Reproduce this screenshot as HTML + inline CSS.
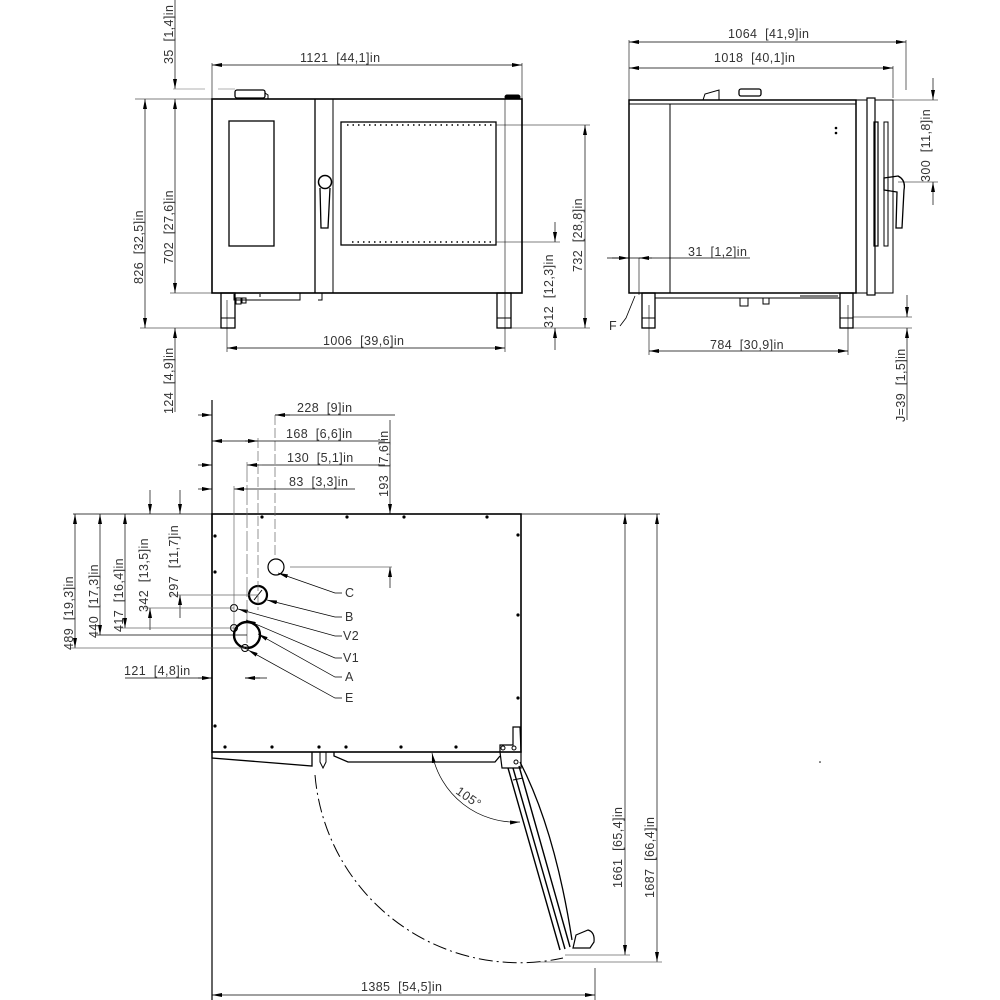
<!DOCTYPE html>
<html><head><meta charset="utf-8"><style>
html,body{margin:0;padding:0;background:#fff;}
svg{display:block;}
text{font-family:"Liberation Sans",sans-serif;font-size:12.5px;letter-spacing:0.4px;fill:#333;white-space:pre;}
</style></head><body>
<svg width="1000" height="1000" viewBox="0 0 1000 1000" xmlns="http://www.w3.org/2000/svg" xml:space="preserve">
<defs>
<marker id="a" viewBox="0 0 10 4" refX="10" refY="2" markerWidth="10" markerHeight="4" orient="auto-start-reverse" markerUnits="userSpaceOnUse"><path d="M0,0L10,2L0,4z" fill="#000"/></marker>
</defs>
<g fill="none" stroke="#000" stroke-width="1">
<rect x="212" y="99" width="310" height="194" stroke-width="1.6"/>
<line x1="315" y1="99" x2="315" y2="293" stroke-width="1.3"/>
<line x1="333" y1="99" x2="333" y2="293"/>
<rect x="229" y="121" width="45" height="125" stroke-width="1.3"/>
<rect x="341" y="122" width="155" height="123" stroke-width="1.3"/>
<line x1="347" y1="125" x2="492" y2="125" stroke-dasharray="1.5 4" stroke-width="1.5"/>
<line x1="352" y1="242" x2="492" y2="242" stroke-dasharray="1.5 4" stroke-width="1.5"/>
<circle cx="325" cy="182" r="6.5" stroke-width="1.5"/>
<path d="M320,188 L321,228 L328,228 L330,188" stroke-width="1.3"/>
<rect x="235" y="90" width="30" height="8" rx="2" stroke-width="1.3"/>
<path d="M265,93 L268,95 L268,99"/>
<rect x="505" y="95" width="15" height="4" rx="2" fill="#000"/>
<rect x="221" y="293" width="14" height="35" stroke-width="1.3"/>
<line x1="221" y1="318" x2="235" y2="318"/>
<rect x="497" y="293" width="14" height="35" stroke-width="1.3"/>
<line x1="497" y1="318" x2="511" y2="318"/>
<path d="M234,294 L234,300 L300,300 L300,293 M260,294 L260,297 M322,293 L322,300 L318,300" />
<rect x="236" y="298" width="5" height="6"/><rect x="242" y="298" width="4" height="5"/>
<line x1="212" y1="65" x2="522" y2="65" marker-start="url(#a)" marker-end="url(#a)" stroke-width=".7"/>
<line x1="212" y1="63" x2="212" y2="99" stroke-width=".6"/>
<line x1="522" y1="63" x2="522" y2="99" stroke-width=".6"/>
<line x1="175" y1="0" x2="175" y2="89" marker-end="url(#a)" stroke-width=".7"/>
<line x1="175" y1="99" x2="175" y2="293" marker-start="url(#a)" marker-end="url(#a)" stroke-width=".7"/>
<line x1="175" y1="328" x2="175" y2="412" marker-start="url(#a)" stroke-width=".7"/>
<line x1="145" y1="99" x2="145" y2="328" marker-start="url(#a)" marker-end="url(#a)" stroke-width=".7"/>
<line x1="173" y1="89" x2="205" y2="89" stroke="#999" stroke-width=".7"/><line x1="218" y1="89" x2="235" y2="89" stroke="#999" stroke-width=".7"/>
<line x1="135" y1="99" x2="212" y2="99" stroke-width=".6"/>
<line x1="170" y1="293" x2="212" y2="293" stroke-width=".6"/>
<line x1="140" y1="328" x2="225" y2="328" stroke-width=".6"/>
<line x1="227" y1="300" x2="227" y2="352" stroke-width=".6"/>
<line x1="505" y1="99" x2="505" y2="352" stroke-width=".6"/>
<line x1="227" y1="348" x2="505" y2="348" marker-start="url(#a)" marker-end="url(#a)" stroke-width=".7"/>
<line x1="496" y1="125" x2="590" y2="125" stroke-width=".6"/>
<line x1="496" y1="242" x2="560" y2="242" stroke-width=".6"/>
<line x1="511" y1="328" x2="590" y2="328" stroke-width=".6"/>
<line x1="585" y1="125" x2="585" y2="328" marker-start="url(#a)" marker-end="url(#a)" stroke-width=".7"/>
<line x1="555" y1="222" x2="555" y2="242" marker-end="url(#a)" stroke-width=".7"/>
<line x1="555" y1="328" x2="555" y2="350" marker-start="url(#a)" stroke-width=".7"/>
<rect x="629" y="100" width="227" height="193" stroke-width="1.5"/>
<line x1="670" y1="104" x2="670" y2="293"/>
<line x1="629" y1="104" x2="856" y2="104"/>
<rect x="856" y="100" width="11" height="193"/>
<rect x="867" y="98" width="8" height="197" stroke-width="1.2"/>
<rect x="875" y="100" width="18" height="193"/>
<rect x="874" y="122" width="4" height="124" stroke-width="1.2"/>
<rect x="884" y="122" width="4" height="124"/>
<path d="M884,178 L898,176 Q906,180 904,190 L902,228 L896,228 L897,192 L884,190 Z" stroke-width="1.3"/>
<path d="M703,100 L705,94 L719,90 L719,100"/>
<rect x="739" y="89" width="22" height="7" rx="2" stroke-width="1.3"/>
<circle cx="836" cy="128" r=".8" fill="#000"/><circle cx="836" cy="133" r=".8" fill="#000"/>
<rect x="642" y="293" width="13" height="35" stroke-width="1.3"/><line x1="642" y1="318" x2="655" y2="318"/>
<rect x="840" y="293" width="13" height="35" stroke-width="1.3"/><line x1="840" y1="318" x2="853" y2="318"/>
<path d="M655,293 L655,298 L840,298 M800,296 L838,296"/>
<rect x="740" y="298" width="8" height="8"/><rect x="763" y="298" width="6" height="6"/>
<line x1="629" y1="42" x2="906" y2="42" marker-start="url(#a)" marker-end="url(#a)" stroke-width=".7"/>
<line x1="629" y1="68" x2="893" y2="68" marker-start="url(#a)" marker-end="url(#a)" stroke-width=".7"/>
<line x1="629" y1="40" x2="629" y2="100" stroke-width=".6"/>
<line x1="906" y1="40" x2="906" y2="90" stroke-width=".6"/>
<line x1="893" y1="66" x2="893" y2="98" stroke-width=".6"/>
<line x1="933" y1="78" x2="933" y2="100" marker-end="url(#a)" stroke-width=".7"/>
<line x1="933" y1="182" x2="933" y2="205" marker-start="url(#a)" stroke-width=".7"/>
<line x1="893" y1="100" x2="938" y2="100" stroke-width=".6"/>
<line x1="898" y1="182" x2="938" y2="182" stroke-width=".6"/>
<line x1="607" y1="258" x2="750" y2="258" stroke-width=".7"/>
<line x1="612" y1="258" x2="629" y2="258" marker-end="url(#a)" stroke-width=".7"/>
<line x1="652" y1="258" x2="639" y2="258" marker-end="url(#a)" stroke-width=".7"/>
<line x1="639" y1="258" x2="639" y2="295" stroke-width=".6"/>
<path d="M635,296 L626,318 L620,326" stroke-width=".8"/>
<line x1="649" y1="305" x2="649" y2="355" stroke-width=".6"/>
<line x1="848" y1="305" x2="848" y2="355" stroke-width=".6"/>
<line x1="649" y1="351" x2="848" y2="351" marker-start="url(#a)" marker-end="url(#a)" stroke-width=".7"/>
<line x1="853" y1="317" x2="912" y2="317" stroke-width=".6"/>
<line x1="853" y1="328" x2="912" y2="328" stroke-width=".6"/>
<line x1="907" y1="295" x2="907" y2="317" marker-end="url(#a)" stroke-width=".7"/>
<line x1="907" y1="328" x2="907" y2="420" marker-start="url(#a)" stroke-width=".7"/>
<rect x="212" y="514" width="309" height="238" stroke-width="1.6"/>
<line x1="212" y1="514" x2="660" y2="514" stroke-width=".8"/>
<line x1="212" y1="400" x2="212" y2="1000" stroke-width="1.2"/>
<path d="M212,752 L212,758 L312,766 L312,752" stroke-width="1.3"/>
<path d="M320,752 L320,762 L323,768 L326,762 L326,752" stroke-width="1"/>
<path d="M334,752 L334,756 L348,762 L495,762 L500,756" stroke-width="1.3"/>
<path d="M500,752 L500,745 L513,745 L513,727 L520,727 L521,752 L521,768 L502,768 L500,752" stroke-width="1.2"/>
<circle cx="503" cy="748" r="2"/><circle cx="514" cy="748" r="2"/><circle cx="516" cy="762" r="2"/>
<path d="M508,768 L560,950 M513,768 L565,949 M519,766 L570,947" stroke-width="1.4"/>
<path d="M520,762 Q555,830 572,940" stroke-width="1.3"/>
<path d="M513,780 L523,778" />
<path d="M573,948 L576,935 L588,930 Q595,932 594,942 L590,948 Z" stroke-width="1.2"/>
<path d="M315,775 A205,205 0 0 0 563,958" stroke-width="1" stroke-dasharray="14 4 2 4"/>
<path d="M432,753 A85,85 0 0 0 520,822" stroke-width=".7" marker-start="url(#a)" marker-end="url(#a)"/>
<g fill="#000" stroke="none">
<circle cx="262" cy="517" r="1.6"/><circle cx="347" cy="517" r="1.6"/><circle cx="404" cy="517" r="1.6"/><circle cx="487" cy="517" r="1.6"/>
<circle cx="215" cy="536" r="1.6"/><circle cx="215" cy="572" r="1.6"/><circle cx="215" cy="726" r="1.6"/>
<circle cx="518" cy="535" r="1.6"/><circle cx="518" cy="615" r="1.6"/><circle cx="518" cy="698" r="1.6"/>
<circle cx="225" cy="747" r="1.6"/><circle cx="272" cy="747" r="1.6"/><circle cx="319" cy="747" r="1.6"/><circle cx="346" cy="747" r="1.6"/><circle cx="401" cy="747" r="1.6"/><circle cx="456" cy="747" r="1.6"/>
<circle cx="820" cy="762" r=".8"/>
</g>
<circle cx="276" cy="567" r="8" stroke-width="1.2"/>
<circle cx="258" cy="595" r="9" stroke-width="2.2"/><line x1="254" y1="600" x2="262" y2="590"/>
<circle cx="234" cy="608" r="3.5"/>
<circle cx="234" cy="628" r="3.5"/>
<circle cx="247" cy="635" r="13" stroke-width="2.4"/>
<circle cx="245" cy="648" r="3.5"/>
<g stroke-width=".7">
<path d="M278,573 L335,593 L342,593" marker-start="url(#a)"/>
<path d="M267,600 L335,617 L342,617" marker-start="url(#a)"/>
<path d="M238,609 L335,636 L342,636" marker-start="url(#a)"/>
<path d="M246,620 L335,658 L342,658" marker-start="url(#a)"/>
<path d="M258,634 L335,677 L342,677" marker-start="url(#a)"/>
<path d="M248,650 L335,698 L342,698" marker-start="url(#a)"/>
</g>
<g stroke-width=".7">
<line x1="275" y1="415" x2="395" y2="415"/>
<line x1="198" y1="415" x2="212" y2="415" marker-end="url(#a)"/>
<line x1="290" y1="415" x2="275" y2="415" marker-end="url(#a)"/>
<line x1="275" y1="415" x2="275" y2="560" stroke="#666" stroke-dasharray="10 3"/>
<line x1="212" y1="441" x2="385" y2="441" marker-start="url(#a)"/>
<line x1="245" y1="441" x2="258" y2="441" marker-end="url(#a)"/>
<line x1="258" y1="438" x2="258" y2="610" stroke="#666" stroke-dasharray="10 3"/>
<line x1="198" y1="465" x2="212" y2="465" marker-end="url(#a)"/>
<line x1="262" y1="465" x2="385" y2="465"/>
<line x1="262" y1="465" x2="247" y2="465" marker-end="url(#a)"/>
<line x1="247" y1="462" x2="247" y2="650" stroke="#666" stroke-dasharray="20 3"/>
<line x1="198" y1="489" x2="212" y2="489" marker-end="url(#a)"/>
<line x1="248" y1="489" x2="355" y2="489"/>
<line x1="248" y1="489" x2="234" y2="489" marker-end="url(#a)"/>
<line x1="234" y1="486" x2="234" y2="630" stroke="#666"/>
<line x1="390" y1="420" x2="390" y2="514" marker-end="url(#a)"/>
<line x1="390" y1="567" x2="390" y2="588" marker-start="url(#a)"/>
<line x1="290" y1="567" x2="392" y2="567" stroke="#666"/>
<line x1="75" y1="514" x2="75" y2="648" marker-start="url(#a)" marker-end="url(#a)"/>
<line x1="100" y1="514" x2="100" y2="635" marker-start="url(#a)" marker-end="url(#a)"/>
<line x1="125" y1="514" x2="125" y2="628" marker-start="url(#a)" marker-end="url(#a)"/>
<line x1="150" y1="490" x2="150" y2="514" marker-end="url(#a)"/>
<line x1="150" y1="608" x2="150" y2="630" marker-start="url(#a)"/>
<line x1="180" y1="490" x2="180" y2="514" marker-end="url(#a)"/>
<line x1="180" y1="595" x2="180" y2="618" marker-start="url(#a)"/>
<line x1="73" y1="514" x2="212" y2="514"/>
<line x1="170" y1="595" x2="258" y2="595" stroke="#666"/>
<line x1="145" y1="608" x2="234" y2="608" stroke="#666"/>
<line x1="120" y1="628" x2="234" y2="628" stroke="#666"/>
<line x1="95" y1="635" x2="247" y2="635"/>
<line x1="70" y1="648" x2="245" y2="648" stroke="#666"/>
<line x1="125" y1="678" x2="212" y2="678"/>
<line x1="198" y1="678" x2="212" y2="678" marker-end="url(#a)"/>
<line x1="260" y1="678" x2="245" y2="678" marker-end="url(#a)"/>
<line x1="245" y1="678" x2="267" y2="678"/>
<line x1="625" y1="514" x2="625" y2="955" marker-start="url(#a)" marker-end="url(#a)"/>
<line x1="657" y1="514" x2="657" y2="962" marker-start="url(#a)" marker-end="url(#a)"/>
<line x1="565" y1="955" x2="630" y2="955" stroke="#666"/>
<line x1="540" y1="962" x2="662" y2="962" stroke="#666"/>
<line x1="595" y1="968" x2="595" y2="1000"/>
<line x1="212" y1="995" x2="595" y2="995" marker-start="url(#a)" marker-end="url(#a)"/>
</g>
</g>
<text x="300" y="62">1121  [44,1]in</text>
<text transform="translate(173,64) rotate(-90)">35  [1,4]in</text>
<text transform="translate(143,284) rotate(-90)">826  [32,5]in</text>
<text transform="translate(173,264) rotate(-90)">702  [27,6]in</text>
<text transform="translate(173,414) rotate(-90)">124  [4,9]in</text>
<text x="323" y="345">1006  [39,6]in</text>
<text transform="translate(582,272) rotate(-90)">732  [28,8]in</text>
<text transform="translate(553,328) rotate(-90)">312  [12,3]in</text>
<text x="728" y="38">1064  [41,9]in</text>
<text x="714" y="62">1018  [40,1]in</text>
<text transform="translate(930,182) rotate(-90)">300  [11,8]in</text>
<text x="688" y="256">31  [1,2]in</text>
<text x="609" y="330">F</text>
<text x="710" y="349">784  [30,9]in</text>
<text transform="translate(905,422) rotate(-90)">J=39  [1,5]in</text>
<text x="297" y="412">228  [9]in</text>
<text x="286" y="438">168  [6,6]in</text>
<text x="287" y="462">130  [5,1]in</text>
<text x="289" y="486">83  [3,3]in</text>
<text transform="translate(388,497) rotate(-90)">193  [7,6]in</text>
<text transform="translate(73,650) rotate(-90)">489  [19,3]in</text>
<text transform="translate(98,638) rotate(-90)">440  [17,3]in</text>
<text transform="translate(123,632) rotate(-90)">417  [16,4]in</text>
<text transform="translate(148,612) rotate(-90)">342  [13,5]in</text>
<text transform="translate(178,598) rotate(-90)">297  [11,7]in</text>
<text x="124" y="675">121  [4,8]in</text>
<text x="345" y="597">C</text>
<text x="345" y="621">B</text>
<text x="343" y="640">V2</text>
<text x="343" y="662">V1</text>
<text x="345" y="681">A</text>
<text x="345" y="702">E</text>
<text transform="translate(455,793) rotate(35)">105°</text>
<text transform="translate(622,888) rotate(-90)">1661  [65,4]in</text>
<text transform="translate(654,898) rotate(-90)">1687  [66,4]in</text>
<text x="361" y="991">1385  [54,5]in</text>
</svg>
</body></html>
